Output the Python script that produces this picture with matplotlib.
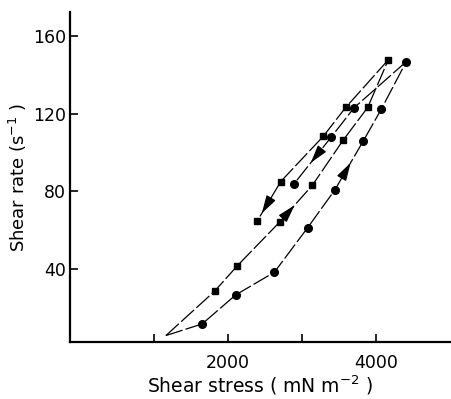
import matplotlib
matplotlib.use("Agg")
import matplotlib.pyplot as plt
import numpy as np

# common starting point of both loops
start_x = 1165
start_y = 5.6

# circles: up branch then down branch
circle_up_x = [1655, 2109, 2631, 3081, 3450, 3833, 4075, 4413]
circle_up_y = [11.6, 26.6, 38.3, 61.3, 80.9, 106.1, 122.4, 147.0]
circle_down_x = [4413, 3706, 3400, 2896]
circle_down_y = [147.0, 123.1, 108.1, 83.9]

# squares: up branch then down branch
square_up_x = [1826, 2132, 2708, 3144, 3563, 3891, 4170]
square_up_y = [28.6, 41.7, 64.4, 83.2, 106.6, 123.3, 147.9]
square_down_x = [4170, 3594, 3293, 2717, 2397]
square_down_y = [147.9, 123.3, 108.5, 85.1, 64.6]

x_ticks = [1000, 2000, 3000, 4000]
x_ticklabels = ["", "2000", "", "4000"]
y_ticks = [40, 80, 120, 160]

fig = plt.figure(figsize=(4.52, 3.99), dpi=100)
ax = fig.add_axes([0.155, 0.143, 0.84, 0.827])

line_kw = dict(color="black", lw=0.9, linestyle=(0, (14, 2.5)))

# up branches start from the common point
ax.plot([start_x] + circle_up_x, [start_y] + circle_up_y, **line_kw)
ax.plot([start_x] + square_up_x, [start_y] + square_up_y, **line_kw)
ax.plot(circle_down_x, circle_down_y, **line_kw)
ax.plot(square_down_x, square_down_y, **line_kw)

ax.plot(circle_up_x + circle_down_x[1:], circle_up_y + circle_down_y[1:],
        "o", color="black", ms=5.5, ls="none")
ax.plot(square_up_x + square_down_x[1:], square_up_y + square_down_y[1:],
        "s", color="black", ms=5, ls="none")


#arrowheads part way along a segment
def arrow_on(xs, ys, i, frac):
    x0, y0 = xs[i], ys[i]
    x1, y1 = xs[i + 1], ys[i + 1]
    tip = (x0 + (x1 - x0) * frac, y0 + (y1 - y0) * frac)
    tail = (x0 + (x1 - x0) * (frac - 0.2), y0 + (y1 - y0) * (frac - 0.2))
    ax.annotate("", xy=tip, xytext=tail,
                arrowprops=dict(arrowstyle="-|>,head_length=1.1,head_width=0.32",
                                color="black", lw=0.9, shrinkA=0, shrinkB=0))


arrow_on(circle_up_x, circle_up_y, 4, 0.55)
arrow_on(square_up_x, square_up_y, 2, 0.45)
arrow_on(circle_down_x, circle_down_y, 2, 0.55)
arrow_on(square_down_x, square_down_y, 3, 0.8)

ax.set_xlim(-130, 5000)
ax.set_ylim(2.3, 172.6)

ax.set_xticks(x_ticks)
ax.set_xticklabels(x_ticklabels)
ax.set_yticks(y_ticks)

for s in ["top", "right"]:
    ax.spines[s].set_visible(False)
for s in ["left", "bottom"]:
    ax.spines[s].set_linewidth(1.6)

ax.tick_params(direction="in", length=6, width=1.2, labelsize=12.5)
ax.tick_params(axis="x", pad=9)
ax.tick_params(axis="y", pad=3)

ax.set_xlabel("Shear stress ( mN m$^{-2}$ )", fontsize=13.5, labelpad=1)
ax.set_ylabel("Shear rate (s$^{-1}$ )", fontsize=13, labelpad=3)

fig.savefig("out.png", dpi=100)
